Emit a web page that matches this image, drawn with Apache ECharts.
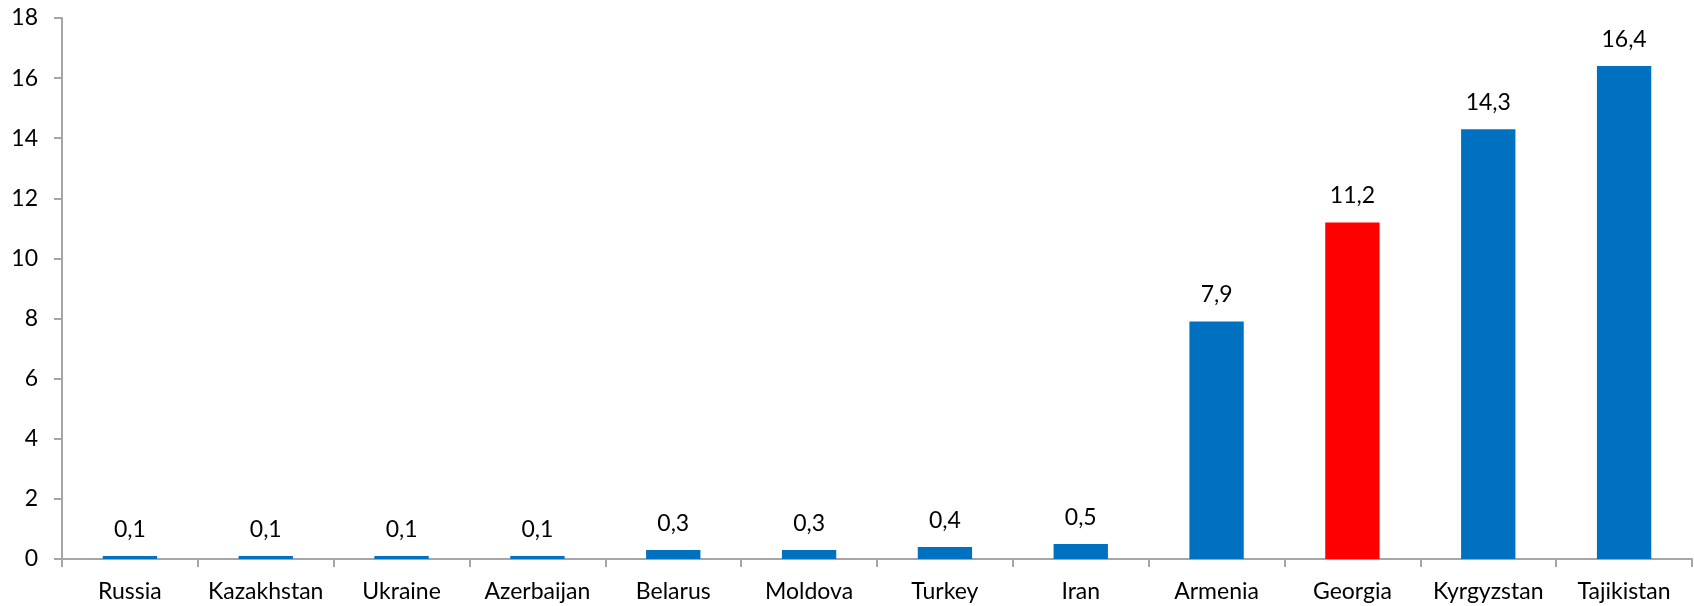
<!DOCTYPE html>
<html>
<head>
<meta charset="utf-8">
<script src="https://cdn.jsdelivr.net/npm/echarts@6/dist/echarts.min.js"></script>
<style>
  html, body { margin: 0; padding: 0; background: #fff; }
  #chart { width: 1694px; height: 606px; }
</style>
</head>
<body>
<div id="chart"></div>
<script>
const countries = ['Russia', 'Kazakhstan', 'Ukraine', 'Azerbaijan', 'Belarus', 'Moldova',
  'Turkey', 'Iran', 'Armenia', 'Georgia', 'Kyrgyzstan', 'Tajikistan'];
const values = [0.1, 0.1, 0.1, 0.1, 0.3, 0.3, 0.4, 0.5, 7.9, 11.2, 14.3, 16.4];
const highlight = 'Georgia';

const font = 'Lato, "Open Sans", sans-serif';
const axisGray = '#a6a6a6';

const chart = echarts.init(document.getElementById('chart'));
chart.setOption({
  animation: false,
  grid: {left: 62, right: 2, top: 18, bottom: 47},
  xAxis: {
    type: 'category',
    data: countries,
    axisLine: {lineStyle: {color: axisGray, width: 2}},
    axisTick: {show: true, length: 8, lineStyle: {color: axisGray, width: 2}},
    axisLabel: {color: '#000', fontFamily: font, fontSize: 23, margin: 21, interval: 0},
  },
  yAxis: {
    type: 'value',
    min: 0,
    max: 18,
    interval: 2,
    splitLine: {show: false},
    axisLine: {show: true, lineStyle: {color: axisGray, width: 2}},
    axisTick: {show: true, length: 8, lineStyle: {color: axisGray, width: 2}},
    axisLabel: {color: '#000', fontFamily: font, fontSize: 23, margin: 24},
  },
  series: [
    {
      type: 'bar',
      barWidth: '40%',
      data: values.map((v, i) => ({
        value: v,
        itemStyle: {color: countries[i] === highlight ? '#ff0000' : '#0070c0'},
      })),
      label: {
        show: true,
        position: 'top',
        distance: 15,
        color: '#000',
        fontFamily: font,
        fontSize: 23,
        formatter: p => String(p.value).replace('.', ','),
      },
    },
  ],
});
</script>
</body>
</html>
